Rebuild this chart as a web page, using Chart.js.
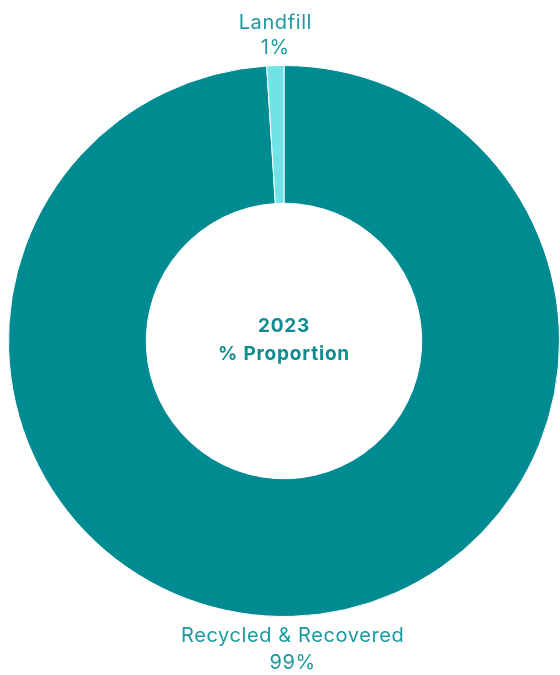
<!DOCTYPE html>
<html>
<head>
<meta charset="utf-8">
<script src="https://cdn.jsdelivr.net/npm/chart.js@4"></script>
<style>
  html, body { margin: 0; padding: 0; background: #fff; }
  #wrap { width: 560px; height: 675px; }
</style>
</head>
<body>
<div id="wrap"><canvas id="wasteChart" width="560" height="675"></canvas></div>
<script>
const categories = ['Recycled & Recovered', 'Landfill'];
const shares = [99, 1];
const sliceColors = ['#008B92', '#6FE3E6'];
const centerLines = ['2023', '% Proportion'];

const labelColor = '#1C9AA0';
const fontFamily = 'Inter, "Liberation Sans", sans-serif';

// slice names and values drawn outside the ring, at each slice's mid angle
const outsideLabels = {
    id: 'outsideLabels',
    afterDraw(chart) {
        const ctx = chart.ctx;
        const meta = chart.getDatasetMeta(0);
        ctx.save();
        ctx.fillStyle = labelColor;
        ctx.font = '20px ' + fontFamily;
        ctx.letterSpacing = '0.6px';
        ctx.textAlign = 'center';
        ctx.textBaseline = 'middle';
        meta.data.forEach((arc, i) => {
            const mid = (arc.startAngle + arc.endAngle) / 2;
            const x = arc.x + Math.cos(mid) * arc.outerRadius;
            const y = arc.y + Math.sin(mid) * arc.outerRadius;
            const text = [categories[i], shares[i] + '%'];
            if (Math.sin(mid) < 0) {
                ctx.fillText(text[0], x, y - 43);
                ctx.fillText(text[1], x, y - 18);
            } else {
                ctx.fillText(text[0], x, y + 20);
                ctx.fillText(text[1], x, y + 47);
            }
        });
        // center caption
        const c = meta.data[0];
        ctx.font = 'bold 19px ' + fontFamily;
        ctx.letterSpacing = '0.8px';
        ctx.fillStyle = '#0E8C90';
        ctx.fillText(centerLines[0], c.x, c.y - 15);
        ctx.fillText(centerLines[1], c.x, c.y + 13);
        ctx.restore();
    }
};

new Chart(document.getElementById('wasteChart'), {
    type: 'doughnut',
    data: {
        labels: categories,
        datasets: [{
            data: shares,
            backgroundColor: sliceColors,
            borderColor: '#ffffff',
            borderWidth: 1
        }]
    },
    options: {
        responsive: false,
        animation: false,
        cutout: '50%',
        layout: { padding: { left: 8, right: 0, top: 65, bottom: 58 } },
        plugins: {
            legend: { display: false },
            tooltip: { enabled: false }
        }
    },
    plugins: [outsideLabels]
});
</script>
</body>
</html>
